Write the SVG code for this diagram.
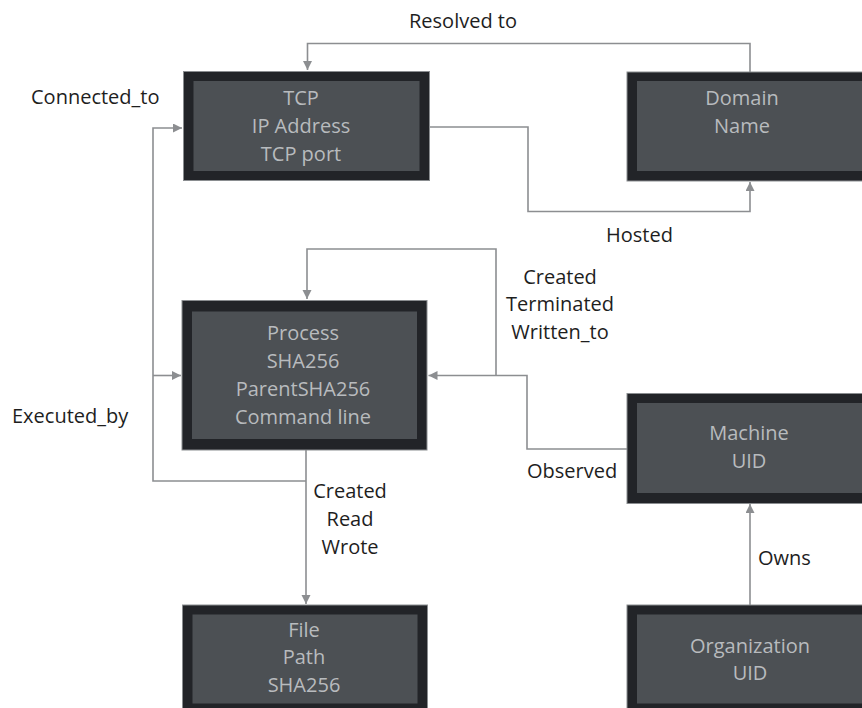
<svg xmlns="http://www.w3.org/2000/svg" width="862" height="708" viewBox="0 0 862 708">
<style>
.frame{fill:#222428;stroke:#8a8d90;stroke-width:1}
.inner{fill:#4c5054}
.nt{font-family:"Open Sans","DejaVu Sans",sans-serif;font-size:20px;fill:#b8bbbe;text-anchor:middle}
.lbl{font-family:"Open Sans","DejaVu Sans",sans-serif;font-size:20px;fill:#1e1e1e}
.c{fill:none;stroke:#8c8e91;stroke-width:1.6}
</style>
<defs>
<marker id="ah" markerUnits="userSpaceOnUse" markerWidth="10" markerHeight="10" refX="9" refY="4.5" orient="auto">
<path d="M0,0 L9,4.5 L0,9 z" fill="#8c8e91"/>
</marker>
</defs>
<rect width="862" height="708" fill="#ffffff"/>
<g id="connectors">
<path class="c" d="M750,72 V43.5 H307.5 V70" marker-end="url(#ah)"/>
<path class="c" d="M429,127 H528 V211.5 H750 V182" marker-end="url(#ah)"/>
<path class="c" d="M306,481 H153 V128 H182" marker-end="url(#ah)"/>
<path class="c" d="M153,375.5 H181" marker-end="url(#ah)"/>
<path class="c" d="M306,450 V604" marker-end="url(#ah)"/>
<path class="c" d="M627,449 H527 V375.5 H428.5" marker-end="url(#ah)"/>
<path class="c" d="M496,375.5 V249 H307 V299" marker-end="url(#ah)"/>
<path class="c" d="M750,605 V504" marker-end="url(#ah)"/>
</g>
<g id="tcp">
<rect class="frame" x="183.5" y="71.5" width="246" height="109"/>
<rect class="inner" x="193.5" y="81" width="226" height="90"/>
<text class="nt" x="301" y="105">TCP</text>
<text class="nt" x="301" y="133">IP Address</text>
<text class="nt" x="301" y="161">TCP port</text>
</g>
<g id="domain">
<rect class="frame" x="627" y="72" width="246" height="109"/>
<rect class="inner" x="637" y="81" width="226" height="90"/>
<text class="nt" x="742" y="105">Domain</text>
<text class="nt" x="742" y="133">Name</text>
</g>
<g id="process">
<rect class="frame" x="182" y="300.5" width="245" height="149.5"/>
<rect class="inner" x="192" y="311.5" width="225" height="127.5"/>
<text class="nt" x="303" y="340">Process</text>
<text class="nt" x="303" y="368">SHA256</text>
<text class="nt" x="303" y="396">ParentSHA256</text>
<text class="nt" x="303" y="424">Command line</text>
</g>
<g id="machine">
<rect class="frame" x="627" y="393.5" width="246" height="110"/>
<rect class="inner" x="637" y="403" width="226" height="90"/>
<text class="nt" x="749" y="440">Machine</text>
<text class="nt" x="749" y="468">UID</text>
</g>
<g id="file">
<rect class="frame" x="182.5" y="605" width="245" height="110"/>
<rect class="inner" x="192.5" y="614.5" width="225" height="89"/>
<text class="nt" x="304" y="637">File</text>
<text class="nt" x="304" y="664">Path</text>
<text class="nt" x="304" y="692">SHA256</text>
</g>
<g id="organization">
<rect class="frame" x="627" y="605" width="246" height="110"/>
<rect class="inner" x="637" y="614.5" width="226" height="89"/>
<text class="nt" x="750" y="653">Organization</text>
<text class="nt" x="750" y="680">UID</text>
</g>
<g id="labels">
<text class="lbl" x="463" y="28" text-anchor="middle">Resolved to</text>
<text class="lbl" x="31" y="104">Connected_to</text>
<text class="lbl" x="606" y="242">Hosted</text>
<text class="lbl" x="560" y="284" text-anchor="middle">Created</text>
<text class="lbl" x="560" y="311" text-anchor="middle">Terminated</text>
<text class="lbl" x="560" y="339" text-anchor="middle">Written_to</text>
<text class="lbl" x="12" y="423">Executed_by</text>
<text class="lbl" x="527" y="478">Observed</text>
<text class="lbl" x="350" y="498" text-anchor="middle">Created</text>
<text class="lbl" x="350" y="526" text-anchor="middle">Read</text>
<text class="lbl" x="350" y="554" text-anchor="middle">Wrote</text>
<text class="lbl" x="758" y="565">Owns</text>
</g>
</svg>
